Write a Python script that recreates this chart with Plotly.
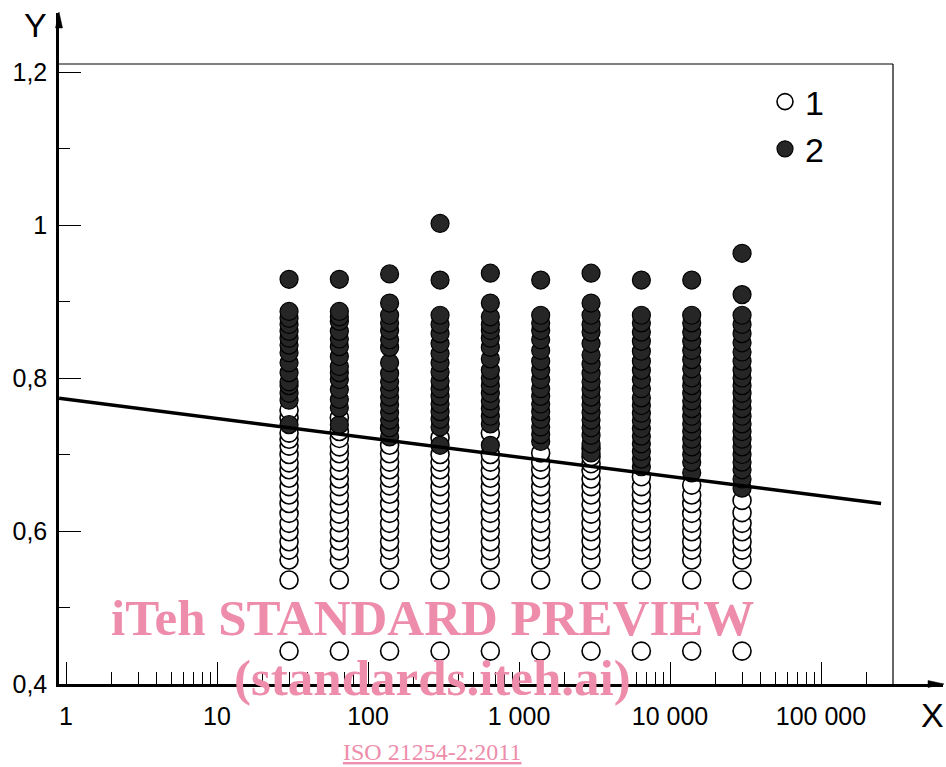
import plotly.graph_objects as go

# ---------------- data ----------------
cycles = [30, 64.6, 139, 300, 646, 1392, 3000, 6463, 13925, 30000]

series1_values = [  # open circles, "1"
    [0.443, 0.536, 0.562, 0.575, 0.586, 0.599, 0.610, 0.623, 0.636, 0.647, 0.658, 0.669, 0.680, 0.689, 0.700, 0.711, 0.720, 0.728, 0.748, 0.758],
    [0.443, 0.536, 0.562, 0.574, 0.587, 0.598, 0.611, 0.622, 0.635, 0.646, 0.658, 0.668, 0.679, 0.690, 0.701, 0.710, 0.721, 0.730, 0.748],
    [0.443, 0.536, 0.562, 0.575, 0.586, 0.599, 0.610, 0.623, 0.636, 0.648, 0.659, 0.669, 0.680, 0.690, 0.701, 0.712, 0.735],
    [0.443, 0.536, 0.562, 0.575, 0.586, 0.598, 0.610, 0.622, 0.635, 0.647, 0.658, 0.669, 0.680, 0.690, 0.700, 0.722],
    [0.443, 0.536, 0.562, 0.574, 0.586, 0.599, 0.611, 0.623, 0.635, 0.647, 0.658, 0.669, 0.679, 0.690, 0.700, 0.728],
    [0.443, 0.536, 0.562, 0.575, 0.586, 0.599, 0.610, 0.623, 0.636, 0.647, 0.658, 0.669, 0.680, 0.690, 0.702],
    [0.443, 0.536, 0.562, 0.575, 0.587, 0.599, 0.610, 0.622, 0.635, 0.647, 0.658, 0.668, 0.679, 0.688, 0.697, 0.708],
    [0.443, 0.536, 0.562, 0.575, 0.586, 0.599, 0.610, 0.623, 0.636, 0.647, 0.658, 0.671],
    [0.443, 0.536, 0.562, 0.575, 0.586, 0.599, 0.610, 0.623, 0.636, 0.647, 0.660],
    [0.443, 0.536, 0.562, 0.575, 0.586, 0.599, 0.610, 0.624, 0.640],
]

series2_values = [  # filled circles, "2"
    [0.739, 0.771, 0.780, 0.790, 0.795, 0.807, 0.820, 0.833, 0.843, 0.852, 0.861, 0.870, 0.878, 0.887, 0.929],
    [0.739, 0.761, 0.772, 0.785, 0.798, 0.807, 0.815, 0.828, 0.841, 0.851, 0.861, 0.874, 0.880, 0.887, 0.929],
    [0.723, 0.735, 0.745, 0.755, 0.765, 0.775, 0.785, 0.795, 0.806, 0.820, 0.840, 0.850, 0.862, 0.872, 0.882, 0.898, 0.936],
    [0.712, 0.736, 0.746, 0.756, 0.766, 0.776, 0.786, 0.796, 0.808, 0.820, 0.832, 0.845, 0.858, 0.870, 0.882, 0.928, 1.002],
    [0.712, 0.740, 0.750, 0.760, 0.770, 0.780, 0.790, 0.800, 0.810, 0.825, 0.840, 0.852, 0.862, 0.870, 0.880, 0.898, 0.937],
    [0.717, 0.726, 0.736, 0.746, 0.756, 0.766, 0.776, 0.786, 0.798, 0.810, 0.822, 0.836, 0.850, 0.862, 0.872, 0.882, 0.928],
    [0.702, 0.714, 0.725, 0.735, 0.745, 0.755, 0.765, 0.775, 0.785, 0.795, 0.806, 0.818, 0.830, 0.845, 0.860, 0.870, 0.882, 0.898, 0.937],
    [0.684, 0.694, 0.704, 0.714, 0.724, 0.734, 0.744, 0.754, 0.764, 0.774, 0.786, 0.798, 0.810, 0.822, 0.835, 0.848, 0.860, 0.872, 0.882, 0.928],
    [0.676, 0.690, 0.700, 0.710, 0.720, 0.730, 0.740, 0.750, 0.760, 0.770, 0.780, 0.790, 0.800, 0.812, 0.824, 0.836, 0.848, 0.860, 0.872, 0.882, 0.928],
    [0.656, 0.668, 0.680, 0.690, 0.700, 0.710, 0.720, 0.730, 0.740, 0.750, 0.760, 0.770, 0.780, 0.790, 0.800, 0.810, 0.822, 0.834, 0.846, 0.858, 0.870, 0.882, 0.909, 0.963],
]

fit_x = [0.9, 250000]
fit_y = [0.7735, 0.636]

x_tick_vals = [1, 10, 100, 1000, 10000, 100000]
x_tick_text = ["1", "10", "100", "1 000", "10 000", "100 000"]
y_tick_vals = [0.4, 0.6, 0.8, 1.0, 1.2]
y_tick_text = ["0,4", "0,6", "0,8", "1", "1,2"]

# ---------------- layout geometry (pixels) ----------------
W, H = 946, 767
L, R, T, B = 59, 943, 13, 684


def px(xp):
    return (xp - L) / (R - L)


def py(yp):
    return (B - yp) / (B - T)


def flatten(values):
    xs, ys = [], []
    for c, col in zip(cycles, values):
        for v in col:
            xs.append(c)
            ys.append(v)
    return xs, ys


x1, y1 = flatten(series1_values)
x2, y2 = flatten(series2_values)

fig = go.Figure()
fig.add_trace(go.Scatter(
    x=x1, y=y1, mode="markers", name="1",
    marker=dict(size=18, color="white", line=dict(color="black", width=1.6)),
))
fig.add_trace(go.Scatter(
    x=x2, y=y2, mode="markers", name="2",
    marker=dict(size=18, color="#262626", line=dict(color="black", width=1.2)),
))
fig.add_trace(go.Scatter(
    x=fit_x, y=fit_y, mode="lines", showlegend=False,
    line=dict(color="black", width=3.4),
))

minor_x = [m * 10 ** d for d in range(0, 5) for m in range(2, 10)] + [200000]
minor_y = [0.5, 0.7, 0.9, 1.1]

font = "Liberation Sans, Arial, sans-serif"
serif = "Liberation Serif, Times New Roman, serif"

fig.update_layout(
    width=W, height=H,
    margin=dict(l=L, r=W - R, t=T, b=H - B, pad=0),
    paper_bgcolor="white", plot_bgcolor="white",
    font=dict(family=font, color="black", size=25),
    xaxis=dict(
        type="log", range=[(L - 66) / 151, (R - 66) / 151],
        showgrid=False, zeroline=False,
        showline=True, linecolor="black", linewidth=2.5,
        ticks="inside", ticklen=22, tickwidth=1.4, tickcolor="black",
        tickmode="array", tickvals=x_tick_vals, ticktext=x_tick_text,
        tickfont=dict(size=25), ticklabelstandoff=8,
        minor=dict(tickmode="array", tickvals=minor_x, ticks="inside",
                   ticklen=12, tickwidth=1.2, tickcolor="black", showgrid=False),
    ),
    yaxis=dict(
        range=[0.4, 0.4 + (B - T) / 765],
        showgrid=False, zeroline=False,
        showline=True, linecolor="black", linewidth=2.5,
        ticks="inside", ticklen=22, tickwidth=1.4, tickcolor="black",
        tickmode="array", tickvals=y_tick_vals, ticktext=y_tick_text,
        tickfont=dict(size=25), ticklabelstandoff=4,
        minor=dict(tickmode="array", tickvals=minor_y, ticks="inside",
                   ticklen=11, tickwidth=1.2, tickcolor="black", showgrid=False),
    ),
    legend=dict(
        x=px(765), y=py(73), xanchor="left", yanchor="top",
        bgcolor="rgba(0,0,0,0)", borderwidth=0,
        font=dict(size=34, family=font),
        itemsizing="trace", tracegroupgap=4,
    ),
    showlegend=True,
)

shapes = [
    # frame top and right
    dict(type="line", xref="paper", yref="paper", x0=0, x1=px(893), y0=py(64), y1=py(64),
         line=dict(color="black", width=1.2)),
    dict(type="line", xref="paper", yref="paper", x0=px(893), x1=px(893), y0=0, y1=py(64),
         line=dict(color="black", width=1.2)),
    # arrow heads
    dict(type="path", xref="paper", yref="paper",
         path=f"M {px(59)},{py(12)} L {px(55.5)},{py(28)} L {px(62.5)},{py(28)} Z",
         fillcolor="black", line=dict(color="black", width=0.5)),
    dict(type="path", xref="paper", yref="paper",
         path=f"M {px(944)},{py(684)} L {px(928)},{py(680.5)} L {px(928)},{py(687.5)} Z",
         fillcolor="black", line=dict(color="black", width=0.5)),
]
fig.update_layout(shapes=shapes)

pink = "#ee8dab"
annotations = [
    dict(text="Y", x=px(35), y=py(25), xref="paper", yref="paper", showarrow=False,
         font=dict(size=34, family=font, color="black"), xanchor="center", yanchor="middle"),
    dict(text="X", x=px(932), y=py(715), xref="paper", yref="paper", showarrow=False,
         font=dict(size=34, family=font, color="black"), xanchor="center", yanchor="middle"),
    dict(text="<b>iTeh STANDARD PREVIEW</b>", x=px(432), y=py(618), xref="paper", yref="paper",
         showarrow=False, font=dict(size=51, family=serif, color=pink),
         xanchor="center", yanchor="middle"),
    dict(text="<b>(standards.iteh.ai)</b>", x=px(432), y=py(678), xref="paper", yref="paper",
         showarrow=False, font=dict(size=51, family=serif, color=pink),
         xanchor="center", yanchor="middle"),
    dict(text="<u>ISO 21254-2:2011</u>", x=px(432), y=py(752), xref="paper", yref="paper",
         showarrow=False, font=dict(size=24, family=serif, color=pink),
         xanchor="center", yanchor="middle"),
]
fig.update_layout(annotations=annotations)

fig.write_html(
    "out.html",
    config={"displayModeBar": False},
    post_script="document.body.style.margin='0';document.body.style.padding='0';",
)
